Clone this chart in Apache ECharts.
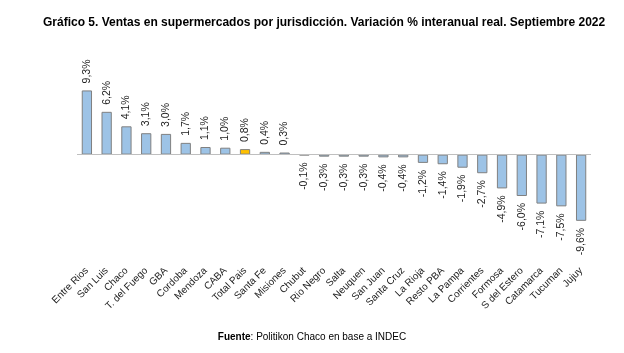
<!DOCTYPE html>
<html><head><meta charset="utf-8">
<script src="https://cdn.jsdelivr.net/npm/echarts@6/dist/echarts.min.js"></script>
<style>html,body{margin:0;padding:0;background:#fff}#c{width:624px;height:353px}</style>
</head><body><div id="c"></div>
<script>
const categories = ["Entre Rios","San Luis","Chaco","T. del Fuego","GBA","Cordoba","Mendoza","CABA","Total Pais","Santa Fe","Misiones","Chubut","Rio Negro","Salta","Neuquen","San Juan","Santa Cruz","La Rioja","Resto PBA","La Pampa","Corrientes","Formosa","S del Estero","Catamarca","Tucuman","Jujuy"];
const values = [9.3,6.2,4.1,3.1,3.0,1.7,1.1,1.0,0.8,0.4,0.3,-0.1,-0.3,-0.3,-0.3,-0.4,-0.4,-1.2,-1.4,-1.9,-2.7,-4.9,-6.0,-7.1,-7.5,-9.6];
const highlight = "Total Pais";

const fmt = v => v.toFixed(1).replace('.', ',') + '%';
const data = values.map((v, i) => {
  const isH = categories[i] === highlight;
  return {
    value: v,
    itemStyle: { color: isH ? '#FFC000' : '#9DC3E6', borderColor: '#808080', borderWidth: 1 },
    label: v >= 0 ? { position: 'top', align: 'left', verticalAlign: 'middle' }
                  : { position: 'bottom', align: 'right', verticalAlign: 'middle' }
  };
});
const chart = echarts.init(document.getElementById('c'), null, {renderer: 'canvas'});
chart.setOption({
  animation: false,
  title: [{
    text: 'Gráfico 5. Ventas en supermercados por jurisdicción. Variación % interanual real. Septiembre 2022',
    left: 38, top: 12,
    textStyle: { fontFamily: 'Liberation Sans, Arial', fontSize: 12, fontWeight: 'bold', color: '#000' }
  }, {
    text: '{b|Fuente}{n|: Politikon Chaco en base a INDEC}',
    left: 'center', top: 327,
    textStyle: { fontWeight: 'normal', fontSize: 10, rich: {
      b: { fontFamily: 'Liberation Sans, Arial', fontSize: 10, fontWeight: 'bold', color: '#000' },
      n: { fontFamily: 'Liberation Sans, Arial', fontSize: 10, fontWeight: 'normal', color: '#000' }
    } }
  }],
  grid: { left: 77, right: 33, top: 58, bottom: 88, containLabel: false },
  xAxis: {
    type: 'category', data: categories,
    axisLine: { show: false }, axisTick: { show: false },
    axisLabel: { rotate: 45, interval: 0, margin: 4, fontFamily: 'Liberation Sans, Arial', fontSize: 10, color: '#222' }
  },
  yAxis: { type: 'value', min: -16, max: 14, show: false, splitLine: { show: false } },
  series: [{
    type: 'bar', data: data, barWidth: '52%',
    label: {
      show: true, rotate: 90, distance: 7,
      fontFamily: 'Liberation Sans, Arial', fontSize: 10.5, color: '#222',
      formatter: p => fmt(p.value)
    },
    markLine: {
      silent: true, symbol: ['none', 'none'], label: { show: false },
      lineStyle: { color: '#bfbfbf', type: 'solid', width: 1 },
      data: [{ yAxis: 0 }]
    }
  }]
});
</script></body></html>
